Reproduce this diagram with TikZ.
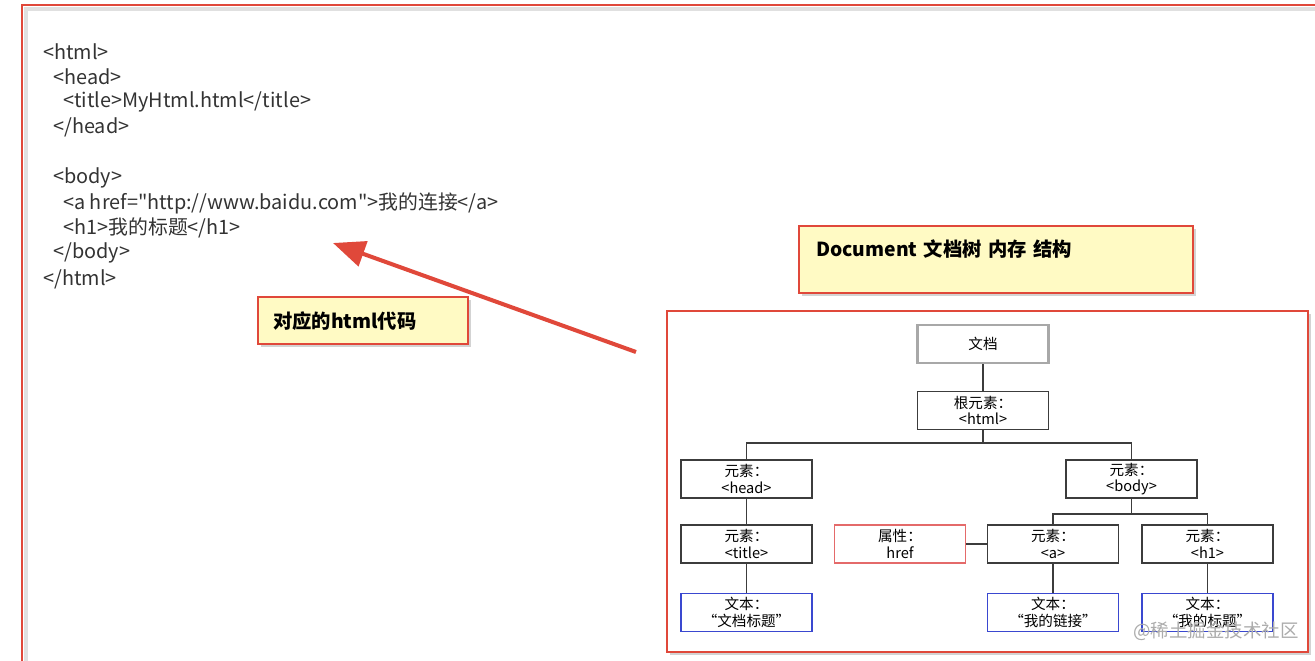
\documentclass[tikz,border=0pt]{standalone}
\usepackage{fontspec}
\setmainfont{Noto Sans CJK SC}[Ligatures=TeXOff]
\usetikzlibrary{arrows.meta,shadows}

\definecolor{framered}{HTML}{E0483A}
\definecolor{noteyellow}{HTML}{FFFAC4}
\definecolor{codegray}{HTML}{333333}
\definecolor{treeline}{HTML}{3C3C3C}
\definecolor{textblue}{HTML}{3A48D0}
\definecolor{attrred}{HTML}{E46A6A}
\definecolor{docgray}{HTML}{A8A8A8}

\begin{document}
\begin{tikzpicture}[x=0.02cm,y=-0.02cm,
  code/.style={anchor=west,inner sep=0pt,text=codegray,
    font=\fontsize{11.3}{13}\selectfont},
  note/.style={draw=framered,line width=1.3pt,fill=noteyellow,
    drop shadow={shadow xshift=1.5pt,shadow yshift=-1.5pt,opacity=0.35},
    font=\bfseries\fontsize{11}{13}\selectfont,align=left},
  elem/.style={draw=treeline,line width=0.8pt,fill=white,
    minimum width=2.62cm,minimum height=0.76cm,inner sep=0pt,
    align=center,font=\fontsize{8.3}{9.5}\selectfont},
  textnode/.style={elem,draw=textblue},
  attrnode/.style={elem,draw=attrred},
  docnode/.style={elem,draw=docgray,line width=1.2pt},
  link/.style={treeline,line width=0.8pt},
  pointer/.style={framered,line width=2.3pt,
    -{Triangle[length=0.64cm,width=0.52cm]}}]

\useasboundingbox (0,0) rectangle (1315,660);
\clip (0,0) rectangle (1315,660);

% Outer slide frame
\draw[black!12,line width=2pt] (26,700) |- (1340,9);
\draw[framered,line width=1.4pt] (22,700) |- (1340,5);

% HTML source
\node[code] (c1) at (43,52) {<html>};
\node[code] (c2) at (53,77) {<head>};
\node[code] (c3) at (63,102) {<title>MyHtml.html</title>};
\node[code] (c4) at (53,127) {</head>};
\node[code] (c5) at (53,178) {<body>};
\node[code] (c6) at (63,203) {<a href="http://www.baidu.com">我的连接</a>};
\node[code] (c7) at (63,228) {<h1>我的标题</h1>};
\node[code] (c8) at (53,253) {</body>};
\node[code] (c9) at (43,279) {</html>};

% Callout for the source
\node[note,anchor=north west,minimum width=4.2cm,minimum height=0.94cm,
  inner xsep=0.3cm,text width=3.6cm] (codenote) at (257,296)
{对应的html代码};

\coordinate (arrowtail) at (636,352);
\coordinate (arrowtip) at (333,243);
\draw[pointer] (arrowtail) -- (arrowtip);

% Callout for the tree
\node[note,anchor=north west,minimum width=7.88cm,inner xsep=0.34cm,
  text width=7.2cm,inner ysep=0.2cm,text height=0.4cm,text depth=0.54cm]
  (treenote) at (798,225)
{Document 文档树 内存 结构};

% Tree frame
\draw[framered,line width=1.4pt,fill=white,
  drop shadow={shadow xshift=1.5pt,shadow yshift=-1.5pt,opacity=0.35}]
  (667,311) rectangle (1308,652);

% Tree nodes
\node[docnode] (doc) at (983,344) {文档};
\node[elem] (root) at (983,410.5) {根元素：\\<html>};
\node[elem] (head) at (746.5,479) {元素：\\<head>};
\node[elem] (body) at (1131.5,479) {元素：\\<body>};
\node[elem] (title) at (746.5,544) {元素：\\<title>};
\node[attrnode] (href) at (900,544) {属性：\\href};
\node[elem] (a) at (1053,544) {元素：\\<a>};
\node[elem] (h1) at (1207.5,544) {元素：\\<h1>};
\node[textnode] (titletext) at (746.5,612.5) {文本：\\“文档标题”};
\node[textnode] (atext) at (1053,612.5) {文本：\\“我的链接”};
\node[textnode] (h1text) at (1207.5,612.5) {文本：\\“我的标题”};

% Connectors
\coordinate (rootbus) at (983,443);
\coordinate (bodybus) at (1131.5,514);
\draw[link] (doc) -- (root);
\draw[link] (root) -- (rootbus);
\draw[link] (head.north) |- (rootbus) -| (body.north);
\draw[link] (body) -- (bodybus);
\draw[link] (a.north) |- (bodybus) -| (h1.north);
\draw[link] (head) -- (title);
\draw[link] (title) -- (titletext);
\draw[link] (href) -- (a);
\draw[link] (a) -- (atext);
\draw[link] (h1) -- (h1text);

% Watermark
\node[text=gray!65,font=\fontsize{10.5}{12}\selectfont,inner sep=0pt]
  (mark) at (1216,631) {@稀土掘金技术社区};

\end{tikzpicture}
\end{document}
